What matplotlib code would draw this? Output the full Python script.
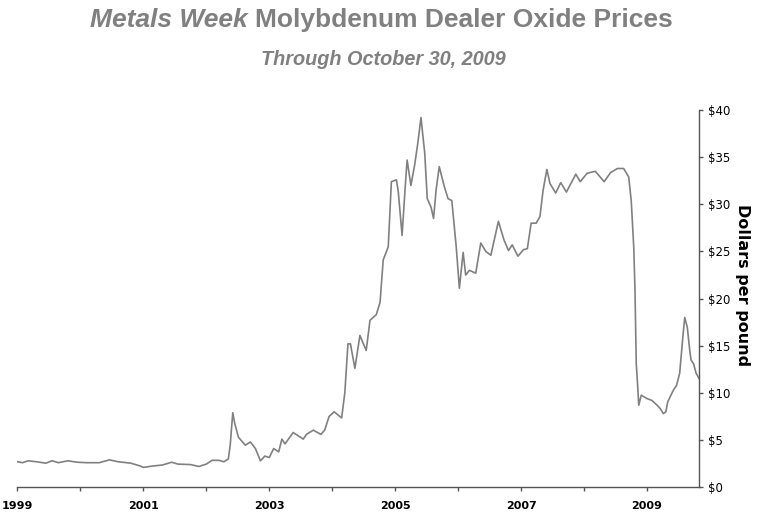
import numpy as np
import matplotlib.pyplot as plt
from matplotlib.ticker import MultipleLocator, FixedLocator, FuncFormatter

# decimal year, dollars per pound
years = [1999.0, 1999.08, 1999.17, 1999.3, 1999.45, 1999.55, 1999.65, 1999.8, 1999.95,
         2000.1, 2000.3, 2000.46, 2000.6, 2000.8, 2000.95, 2001.0, 2001.15, 2001.3,
         2001.45, 2001.55, 2001.75, 2001.88, 2002.0, 2002.09, 2002.2, 2002.28, 2002.35,
         2002.38, 2002.42, 2002.45, 2002.51, 2002.62, 2002.7, 2002.78, 2002.86, 2002.93,
         2003.0, 2003.07, 2003.15, 2003.2, 2003.25, 2003.38, 2003.54, 2003.59, 2003.7,
         2003.82, 2003.88, 2003.95, 2004.03, 2004.15, 2004.2, 2004.25, 2004.29, 2004.36,
         2004.44, 2004.54, 2004.6, 2004.7, 2004.76, 2004.81, 2004.89, 2004.94, 2005.02,
         2005.05, 2005.11, 2005.16, 2005.19, 2005.25, 2005.31, 2005.36, 2005.41, 2005.47,
         2005.51, 2005.57, 2005.61, 2005.65, 2005.7, 2005.78, 2005.84, 2005.9, 2005.97,
         2006.02, 2006.08, 2006.12, 2006.18, 2006.28, 2006.36, 2006.44, 2006.52, 2006.64,
         2006.73, 2006.8, 2006.86, 2006.95, 2007.04, 2007.1, 2007.16, 2007.24, 2007.3,
         2007.35, 2007.41, 2007.46, 2007.55, 2007.63, 2007.72, 2007.87, 2007.94, 2008.05,
         2008.18, 2008.32, 2008.42, 2008.53, 2008.63, 2008.71, 2008.75, 2008.79, 2008.81,
         2008.83, 2008.85, 2008.87, 2008.91, 2009.0, 2009.08, 2009.16, 2009.21, 2009.26,
         2009.3, 2009.33, 2009.37, 2009.42, 2009.47, 2009.52, 2009.57, 2009.6, 2009.64,
         2009.68, 2009.7, 2009.74, 2009.78, 2009.83]
prices = [2.70, 2.60, 2.80, 2.70, 2.55, 2.80, 2.60, 2.80, 2.65,
          2.60, 2.60, 2.90, 2.70, 2.55, 2.25, 2.10, 2.25, 2.35,
          2.65, 2.45, 2.40, 2.20, 2.45, 2.85, 2.85, 2.70, 3.0,
          4.5, 7.9, 6.8, 5.3, 4.45, 4.8, 4.1, 2.8, 3.3,
          3.15, 4.1, 3.75, 5.1, 4.6, 5.8, 5.1, 5.6, 6.05,
          5.6, 6.05, 7.5, 8.0, 7.35, 10.0, 15.2, 15.2, 12.6,
          16.1, 14.5, 17.7, 18.3, 19.6, 24.1, 25.5, 32.4, 32.6,
          31.3, 26.7, 31.9, 34.7, 32.0, 34.2, 36.5, 39.2, 35.4,
          30.6, 29.7, 28.5, 31.5, 34.0, 31.9, 30.6, 30.4, 25.5,
          21.1, 24.9, 22.5, 23.0, 22.7, 25.9, 25.0, 24.6, 28.2,
          26.2, 25.1, 25.7, 24.5, 25.2, 25.3, 28.0, 28.0, 28.7,
          31.5, 33.7, 32.2, 31.2, 32.3, 31.3, 33.2, 32.4, 33.3,
          33.5, 32.4, 33.35, 33.8, 33.8, 32.9, 30.4, 25.5, 20.9,
          13.1, 11.0, 8.7, 9.76, 9.4, 9.2, 8.7, 8.35, 7.8,
          8.0, 9.05, 9.6, 10.3, 10.8, 12.1, 15.9, 18.0, 17.0,
          14.5, 13.5, 13.1, 12.1, 11.5]

labelled_years = [1999, 2001, 2003, 2005, 2007, 2009]

fig = plt.figure(figsize=(7.6, 5.29), dpi=100)
ax = fig.add_axes([0.023, 0.079, 0.897, 0.713])

ax.plot(years, prices, color='#808080', lw=1.2)

ax.set_xlim(1999, 2009.83)
ax.set_ylim(0, 40)

for s in ['top', 'left']:
    ax.spines[s].set_visible(False)
for s in ['bottom', 'right']:
    ax.spines[s].set_color('#555555')
    ax.spines[s].set_linewidth(1.0)

ax.yaxis.tick_right()
ax.yaxis.set_label_position('right')
ax.yaxis.set_major_locator(MultipleLocator(5))
ax.yaxis.set_major_formatter(FuncFormatter(lambda v, p: '$%d' % v))
ax.xaxis.set_major_locator(FixedLocator(labelled_years))
ax.xaxis.set_minor_locator(MultipleLocator(1))
ax.xaxis.set_major_formatter(FuncFormatter(lambda v, p: '%d' % v))
ax.tick_params(axis='both', which='both', direction='out', length=3,
               color='#555555', width=1.0)
ax.tick_params(axis='y', labelsize=8.5, pad=3)
ax.tick_params(axis='x', labelsize=8, pad=7)
for lab in ax.get_xticklabels():
    lab.set_fontweight('bold')

ax.set_ylabel('Dollars per pound', rotation=270, fontsize=11.5,
              fontweight='bold', va='center')
ax.yaxis.set_label_coords(1.063, 0.536)

# title: italic "Metals Week" followed by upright text, centred together
gray = '#808080'
title_y = 1 - 27 / 529
t1 = fig.text(0, title_y, 'Metals Week ', fontsize=19, color=gray,
              family='Liberation Sans', style='italic', fontweight='bold',
              va='baseline')
t2 = fig.text(0, title_y, 'Molybdenum Dealer Oxide Prices', fontsize=19,
              color=gray, family='Liberation Sans', fontweight='bold',
              va='baseline')
fig.canvas.draw()
r = fig.canvas.get_renderer()
w1 = t1.get_window_extent(r).width / fig.bbox.width
w2 = t2.get_window_extent(r).width / fig.bbox.width
x0 = 381 / 760 - (w1 + w2) / 2
t1.set_x(x0)
t2.set_x(x0 + w1)

fig.text(383 / 760, 1 - 65 / 529, 'Through October 30, 2009', fontsize=14.3,
         color=gray, family='Liberation Sans', style='italic',
         fontweight='bold', ha='center', va='baseline')

fig.savefig('out.png', dpi=100)
